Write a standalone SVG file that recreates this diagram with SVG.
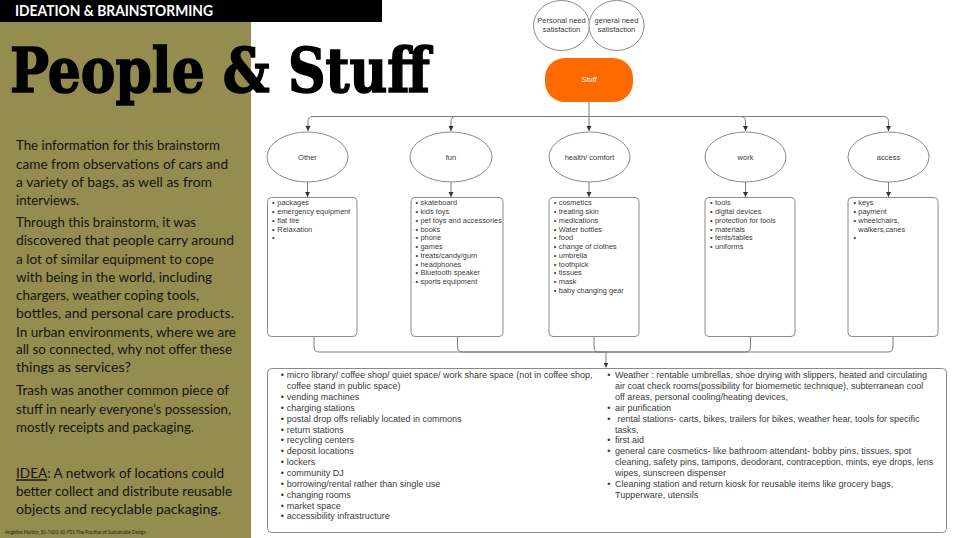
<svg xmlns="http://www.w3.org/2000/svg" width="960" height="538" viewBox="0 0 960 538">
<style>
.lt{font-family:Lato,"Liberation Sans",sans-serif;font-size:14px;fill:#141414}
.nd{fill:#fff;stroke:#8a8a8a;stroke-width:1}
.lbl{font-family:"Liberation Sans",Arial,sans-serif;font-size:7.5px;fill:#3a3a3a;text-anchor:middle}
.bx{font-family:"Liberation Sans",Arial,sans-serif;font-size:7.4px;fill:#3a3a3a}
.bt{font-family:"Liberation Sans",Arial,sans-serif;font-size:9px;fill:#3a3a3a}
.cn{fill:none;stroke:#7a7a7a;stroke-width:1}
</style>
<defs>
<marker id="ah" markerWidth="6" markerHeight="6" refX="5" refY="3" orient="auto" markerUnits="userSpaceOnUse">
<path d="M0,0.5 L5,3 L0,5.5 Z" fill="#333"/>
</marker>
</defs>
<rect width="960" height="538" fill="#fff"/>
<rect x="0" y="22" width="251" height="516" fill="#958C4F"/>
<rect x="0" y="0" width="382" height="22" fill="#000"/>
<text x="15" y="16" font-family="Lato,'Liberation Sans',sans-serif" font-weight="bold" font-size="14.5" fill="#fff" textLength="198" lengthAdjust="spacingAndGlyphs">IDEATION &amp; BRAINSTORMING</text>
<text x="10" y="92" font-family="'DejaVu Serif',serif" font-weight="bold" font-size="62" fill="#000" stroke="#000" stroke-width="1.6" textLength="420" lengthAdjust="spacingAndGlyphs">People &amp; Stuff</text>

<g id="intro" class="lt">
<text x="16" y="150" textLength="204" lengthAdjust="spacingAndGlyphs">The information for this brainstorm</text>
<text x="16" y="168.5" textLength="212" lengthAdjust="spacingAndGlyphs">came from observations of cars and</text>
<text x="16" y="186.7" textLength="196" lengthAdjust="spacingAndGlyphs">a variety of bags, as well as from</text>
<text x="16" y="204.5" textLength="63" lengthAdjust="spacingAndGlyphs">interviews.</text>
<text x="16" y="227" textLength="180" lengthAdjust="spacingAndGlyphs">Through this brainstorm, it was</text>
<text x="16" y="245.3" textLength="218" lengthAdjust="spacingAndGlyphs">discovered that people carry around</text>
<text x="16" y="263.5" textLength="198" lengthAdjust="spacingAndGlyphs">a lot of similar equipment to cope</text>
<text x="16" y="281.7" textLength="196" lengthAdjust="spacingAndGlyphs">with being in the world, including</text>
<text x="16" y="300" textLength="183" lengthAdjust="spacingAndGlyphs">chargers, weather coping tools,</text>
<text x="16" y="318.2" textLength="218" lengthAdjust="spacingAndGlyphs">bottles, and personal care products.</text>
<text x="16" y="336.5" textLength="220" lengthAdjust="spacingAndGlyphs">In urban environments, where we are</text>
<text x="16" y="354" textLength="216" lengthAdjust="spacingAndGlyphs">all so connected, why not offer these</text>
<text x="16" y="371.5" textLength="115" lengthAdjust="spacingAndGlyphs">things as services?</text>
<text x="16" y="395.3" textLength="213" lengthAdjust="spacingAndGlyphs">Trash was another common piece of</text>
<text x="16" y="413.5" textLength="215" lengthAdjust="spacingAndGlyphs">stuff in nearly everyone’s possession,</text>
<text x="16" y="431.7" textLength="178" lengthAdjust="spacingAndGlyphs">mostly receipts and packaging.</text>
<text x="16" y="478.3" textLength="208" lengthAdjust="spacingAndGlyphs"><tspan text-decoration="underline">IDEA</tspan>: A network of locations could</text>
<text x="16" y="496" textLength="216" lengthAdjust="spacingAndGlyphs">better collect and distribute reusable</text>
<text x="16" y="514" textLength="205" lengthAdjust="spacingAndGlyphs">objects and recyclable packaging.</text>
</g>
<text x="5" y="533.5" font-family="Lato,'Liberation Sans',sans-serif" font-size="5" fill="#222" textLength="141" lengthAdjust="spacingAndGlyphs">Angelina Molizia_50-7620-10-F21 The Practice of Sustainable Design</text>

<g id="connectors">
<path class="cn" d="M589,102 V131" marker-end="url(#ah)"/>
<path class="cn" d="M589,116.5 H313 Q308,116.5 308,121.5 V131" marker-end="url(#ah)"/>
<path class="cn" d="M589,116.5 H456 Q451,116.5 451,121.5 V131" marker-end="url(#ah)"/>
<path class="cn" d="M589,116.5 H740.5 Q745.5,116.5 745.5,121.5 V131" marker-end="url(#ah)"/>
<path class="cn" d="M589,116.5 H883.5 Q888.5,116.5 888.5,121.5 V131" marker-end="url(#ah)"/>
<path class="cn" d="M307.5,182 V197" marker-end="url(#ah)"/>
<path class="cn" d="M451,182 V197" marker-end="url(#ah)"/>
<path class="cn" d="M589,182 V197" marker-end="url(#ah)"/>
<path class="cn" d="M745.5,182 V197" marker-end="url(#ah)"/>
<path class="cn" d="M888.5,182 V197" marker-end="url(#ah)"/>
<path class="cn" d="M314,336 V347 Q314,352 319,352 H606"/>
<path class="cn" d="M457.5,336 V347 Q457.5,352 462.5,352 H606"/>
<path class="cn" d="M594,336 V347 Q594,352 599,352 H606"/>
<path class="cn" d="M750.5,336 V347 Q750.5,352 745.5,352 H606"/>
<path class="cn" d="M893,336 V347 Q893,352 888,352 H606"/>
<path class="cn" d="M606,352 V367.5" marker-end="url(#ah)"/>
</g>

<g id="personal-need">
<ellipse class="nd" cx="561.5" cy="25.5" rx="28" ry="25"/>
<text class="lbl" x="561.5" y="23.3">Personal need</text>
<text class="lbl" x="561.5" y="32">satisfaction</text>
</g>
<g id="general-need">
<ellipse class="nd" cx="616.5" cy="25.5" rx="27.5" ry="25"/>
<text class="lbl" x="616.5" y="23.3">general need</text>
<text class="lbl" x="616.5" y="32">satisfaction</text>
</g>
<g id="stuff">
<rect x="545" y="58" width="88" height="44" rx="20" fill="#FF6A00"/>
<text x="589" y="81.5" font-family="'Liberation Sans',Arial,sans-serif" font-size="7.5" font-style="italic" fill="#fff" text-anchor="middle">Stuff</text>
</g>

<g id="other">
<ellipse class="nd" cx="307.5" cy="157" rx="40.5" ry="25"/>
<text class="lbl" x="307.5" y="159.5">Other</text>
</g>
<g id="fun">
<ellipse class="nd" cx="451" cy="157" rx="41" ry="25"/>
<text class="lbl" x="451" y="159.5">fun</text>
</g>
<g id="health">
<ellipse class="nd" cx="589.5" cy="157" rx="40.5" ry="25"/>
<text class="lbl" x="589.5" y="159.5">health/ comfort</text>
</g>
<g id="work">
<ellipse class="nd" cx="745.5" cy="157" rx="40.5" ry="25"/>
<text class="lbl" x="745.5" y="159.5">work</text>
</g>
<g id="access">
<ellipse class="nd" cx="888.5" cy="157" rx="40.5" ry="25"/>
<text class="lbl" x="888.5" y="159.5">access</text>
</g>

<g id="other-list">
<rect class="nd" x="267.5" y="197.5" width="89.5" height="139" rx="4"/>
<text class="bx"><tspan x="272" y="205.3">•</tspan><tspan x="272" y="214">•</tspan><tspan x="272" y="222.8">•</tspan><tspan x="272" y="231.5">•</tspan><tspan x="272" y="240.3">•</tspan></text>
<text class="bx"><tspan x="277.3" y="205.3">packages</tspan><tspan x="277.3" y="214">emergency equipment</tspan><tspan x="277.3" y="222.8">flat tire</tspan><tspan x="277.3" y="231.5">Relaxation</tspan></text>
</g>
<g id="fun-list">
<rect class="nd" x="411" y="197.5" width="92" height="139" rx="4"/>
<text class="bx"><tspan x="415.5" y="205.3">•</tspan><tspan x="415.5" y="214">•</tspan><tspan x="415.5" y="222.8">•</tspan><tspan x="415.5" y="231.5">•</tspan><tspan x="415.5" y="240.3">•</tspan><tspan x="415.5" y="249">•</tspan><tspan x="415.5" y="257.8">•</tspan><tspan x="415.5" y="266.5">•</tspan><tspan x="415.5" y="275.3">•</tspan><tspan x="415.5" y="284">•</tspan></text>
<text class="bx"><tspan x="420.5" y="205.3">skateboard</tspan><tspan x="420.5" y="214">kids toys</tspan><tspan x="420.5" y="222.8">pet toys and accessories</tspan><tspan x="420.5" y="231.5">books</tspan><tspan x="420.5" y="240.3">phone</tspan><tspan x="420.5" y="249">games</tspan><tspan x="420.5" y="257.8">treats/candy/gum</tspan><tspan x="420.5" y="266.5">headphones</tspan><tspan x="420.5" y="275.3">Bluetooth speaker</tspan><tspan x="420.5" y="284">sports equipment</tspan></text>
</g>
<g id="health-list">
<rect class="nd" x="549" y="197.5" width="90" height="139" rx="4"/>
<text class="bx"><tspan x="553.8" y="205.3">•</tspan><tspan x="553.8" y="214">•</tspan><tspan x="553.8" y="222.8">•</tspan><tspan x="553.8" y="231.5">•</tspan><tspan x="553.8" y="240.3">•</tspan><tspan x="553.8" y="249">•</tspan><tspan x="553.8" y="257.8">•</tspan><tspan x="553.8" y="266.5">•</tspan><tspan x="553.8" y="275.3">•</tspan><tspan x="553.8" y="284">•</tspan><tspan x="553.8" y="292.8">•</tspan></text>
<text class="bx"><tspan x="558.8" y="205.3">cosmetics</tspan><tspan x="558.8" y="214">treating skin</tspan><tspan x="558.8" y="222.8">medications</tspan><tspan x="558.8" y="231.5">Water bottles</tspan><tspan x="558.8" y="240.3">food</tspan><tspan x="558.8" y="249">change of clothes</tspan><tspan x="558.8" y="257.8">umbrella</tspan><tspan x="558.8" y="266.5">toothpick</tspan><tspan x="558.8" y="275.3">tissues</tspan><tspan x="558.8" y="284">mask</tspan><tspan x="558.8" y="292.8">baby changing gear</tspan></text>
</g>
<g id="work-list">
<rect class="nd" x="705" y="197.5" width="90" height="139" rx="4"/>
<text class="bx"><tspan x="710" y="205.3">•</tspan><tspan x="710" y="214">•</tspan><tspan x="710" y="222.8">•</tspan><tspan x="710" y="231.5">•</tspan><tspan x="710" y="240.3">•</tspan><tspan x="710" y="249">•</tspan></text>
<text class="bx"><tspan x="715" y="205.3">tools</tspan><tspan x="715" y="214">digital devices</tspan><tspan x="715" y="222.8">protection for tools</tspan><tspan x="715" y="231.5">materials</tspan><tspan x="715" y="240.3">tents/tables</tspan><tspan x="715" y="249">uniforms</tspan></text>
</g>
<g id="access-list">
<rect class="nd" x="848" y="197.5" width="90" height="139" rx="4"/>
<text class="bx"><tspan x="853.5" y="205.3">•</tspan><tspan x="853.5" y="214">•</tspan><tspan x="853.5" y="222.8">•</tspan><tspan x="853.5" y="240.3">•</tspan></text>
<text class="bx"><tspan x="858.3" y="205.3">keys</tspan><tspan x="858.3" y="214">payment</tspan><tspan x="858.3" y="222.8">wheelchairs,</tspan><tspan x="858.3" y="231.5">walkers,canes</tspan></text>
</g>

<g id="services">
<rect class="nd" x="267.5" y="368.5" width="679" height="164" rx="4"/>
<text class="bt"><tspan x="280.7" y="378.3">•</tspan><tspan x="280.7" y="400">•</tspan><tspan x="280.7" y="410.9">•</tspan><tspan x="280.7" y="421.7">•</tspan><tspan x="280.7" y="432.6">•</tspan><tspan x="280.7" y="443.4">•</tspan><tspan x="280.7" y="454.3">•</tspan><tspan x="280.7" y="465.1">•</tspan><tspan x="280.7" y="476">•</tspan><tspan x="280.7" y="486.8">•</tspan><tspan x="280.7" y="497.7">•</tspan><tspan x="280.7" y="508.5">•</tspan><tspan x="280.7" y="519.4">•</tspan></text>
<text class="bt"><tspan x="286.7" y="378.3">micro library/ coffee shop/ quiet space/ work share space (not in coffee shop,</tspan><tspan x="286.7" y="389.2">coffee stand in public space)</tspan><tspan x="286.7" y="400">vending machines</tspan><tspan x="286.7" y="410.9">charging stations</tspan><tspan x="286.7" y="421.7">postal drop offs reliably located in commons</tspan><tspan x="286.7" y="432.6">return stations</tspan><tspan x="286.7" y="443.4">recycling centers</tspan><tspan x="286.7" y="454.3">deposit locations</tspan><tspan x="286.7" y="465.1">lockers</tspan><tspan x="286.7" y="476">community DJ</tspan><tspan x="286.7" y="486.8">borrowing/rental rather than single use</tspan><tspan x="286.7" y="497.7">changing rooms</tspan><tspan x="286.7" y="508.5">market space</tspan><tspan x="286.7" y="519.4">accessibility infrastructure</tspan></text>
<text class="bt"><tspan x="607.3" y="378.3">•</tspan><tspan x="607.3" y="410.9">•</tspan><tspan x="607.3" y="421.7">•</tspan><tspan x="607.3" y="443.4">•</tspan><tspan x="607.3" y="454.3">•</tspan><tspan x="607.3" y="486.8">•</tspan></text>
<text class="bt"><tspan x="615" y="378.3">Weather : rentable umbrellas, shoe drying with slippers, heated and circulating</tspan><tspan x="615" y="389.2">air coat check rooms(possibility for biomemetic technique), subterranean cool</tspan><tspan x="615" y="400">off areas, personal cooling/heating devices,</tspan><tspan x="615" y="410.9">air purification</tspan><tspan x="617.5" y="421.7">rental stations- carts, bikes, trailers for bikes, weather hear, tools for specific</tspan><tspan x="615" y="432.6">tasks,</tspan><tspan x="615" y="443.4">first aid</tspan><tspan x="615" y="454.3">general care cosmetics- like bathroom attendant- bobby pins, tissues, spot</tspan><tspan x="615" y="465.1">cleaning, safety pins, tampons, deodorant, contraception, mints, eye drops, lens</tspan><tspan x="615" y="476">wipes, sunscreen dispenser</tspan><tspan x="615" y="486.8">Cleaning station and return kiosk for reusable items like grocery bags,</tspan><tspan x="615" y="497.7">Tupperware, utensils</tspan></text>
</g>
</svg>
